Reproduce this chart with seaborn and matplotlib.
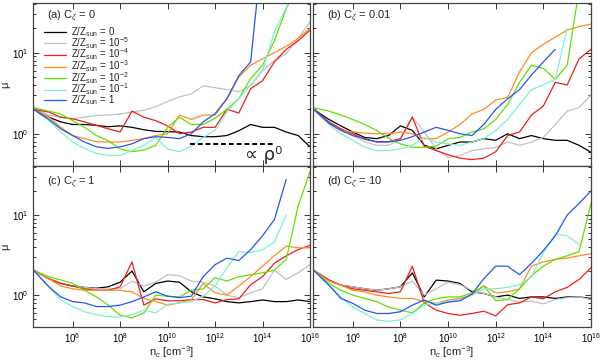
import numpy as np
import pandas as pd
import matplotlib
matplotlib.use("Agg")
import matplotlib.pyplot as plt
import matplotlib.ticker as mticker
import seaborn as sns

# density grid (log10 n_c), shared by every curve
log_nc = [4.35, 5.0, 5.5, 6.0, 6.5, 7.0, 7.5, 8.0, 8.5, 9.0, 9.5, 10.0,
          10.5, 11.0, 11.5, 12.0, 12.5, 13.0, 13.5, 14.0, 14.5, 15.0, 15.5, 16.0]
nan = np.nan

z_labels = [r"Z/Z$_{\rm sun}$ = 0", r"Z/Z$_{\rm sun}$ = 10$^{-5}$",
            r"Z/Z$_{\rm sun}$ = 10$^{-4}$", r"Z/Z$_{\rm sun}$ = 10$^{-3}$",
            r"Z/Z$_{\rm sun}$ = 10$^{-2}$", r"Z/Z$_{\rm sun}$ = 10$^{-1}$",
            r"Z/Z$_{\rm sun}$ = 1"]
z_colours = ["#000000", "#bcc3c3", "#f21c1c", "#ff8c20", "#62e000", "#7cf0d4", "#2456f2"]

# (a) C_zeta = 0
a_0 = [2.0, 1.6, 1.4, 1.3, 1.3, 1.27, 1.22, 1.25, 1.2, 1.12, 1.07, 1.06, 1.05, 0.95, 0.92, 0.92, 0.95, 1.09, 1.3, 1.2, 1.2, 1.05, 0.95, 0.69]
a_m5 = [2.1, 1.7, 1.6, 1.53, 1.6, 1.68, 1.7, 1.75, 1.85, 1.95, 2.15, 2.5, 2.85, 3.1, 3.9, 3.7, 3.5, 3.3, 3.9, 6.0, 8.0, 9.7, 15, 24]
a_m4 = [2.0, 1.85, 1.6, 1.53, 1.4, 1.27, 1.15, 1.05, 1.9, 1.6, 1.45, 1.25, 1.0, 1.05, 1.2, 1.2, 2.0, 1.8, 3.6, 4.5, 7.7, 11, 14, 19]
a_m3 = [2.0, 1.6, 1.2, 0.95, 0.87, 0.8, 0.79, 0.79, 0.83, 0.87, 0.95, 1.0, 1.7, 1.5, 1.7, 1.7, 2.7, 5.0, 7.0, 8.4, 10, 12, 15, 20]
a_m2 = [2.1, 1.9, 1.75, 1.45, 1.2, 0.95, 0.82, 0.65, 0.6, 0.63, 0.72, 1.2, 1.6, 1.3, 1.3, 1.55, 2.0, 2.7, 4.8, 7.0, 14, 35, 70, 80]
a_m1 = [2.0, 1.45, 1.05, 0.79, 0.66, 0.57, 0.54, 0.54, 0.62, 0.72, 0.9, 0.65, 0.6, 0.7, 0.9, 1.1, 1.85, 2.7, 4.0, 6.0, 18, 36, 70, 80]
a_1 = [2.0, 1.5, 1.15, 0.95, 0.79, 0.69, 0.66, 0.69, 0.75, 0.87, 0.92, 0.9, 0.87, 1.0, 1.4, 1.77, 2.7, 5.2, 7.7, 200, nan, nan, nan, nan]

# (b) C_zeta = 0.01
b_0 = [2.0, 1.5, 1.25, 1.05, 0.9, 0.87, 0.95, 1.25, 1.1, 0.72, 0.65, 0.72, 0.79, 0.79, 0.87, 0.83, 1.0, 0.87, 0.95, 0.87, 0.83, 0.83, 0.72, 0.59]
b_m5 = [2.0, 1.35, 1.15, 0.95, 0.79, 0.72, 0.72, 0.85, 1.6, 1.05, 0.65, 0.51, 0.54, 0.62, 0.65, 0.68, 0.79, 0.72, 0.79, 0.9, 1.3, 1.9, 2.1, 3.0]
b_m4 = [2.0, 1.4, 1.15, 1.0, 0.85, 0.8, 0.8, 0.87, 1.6, 0.7, 0.62, 0.55, 0.5, 0.48, 0.5, 0.6, 0.95, 1.05, 1.7, 2.2, 4.3, 4.0, 8.4, 11]
b_m3 = [2.0, 1.35, 1.1, 1.05, 1.02, 1.0, 1.0, 1.05, 1.0, 0.87, 0.87, 1.05, 1.3, 1.75, 2.0, 2.6, 2.8, 5.8, 10, 12.7, 15.5, 19, 21, 22.5]
b_m2 = [2.1, 1.9, 1.7, 1.5, 1.3, 1.1, 0.88, 0.75, 0.68, 0.68, 0.7, 0.87, 0.9, 1.05, 1.15, 1.5, 2.3, 4.3, 7.0, 6.4, 4.7, 7.0, 60, 80]
b_m1 = [2.0, 1.3, 1.0, 0.83, 0.68, 0.62, 0.62, 0.65, 0.72, 0.9, 0.79, 0.75, 0.72, 0.79, 0.87, 1.1, 1.5, 2.3, 3.5, 4.0, 4.7, 20, nan, nan]
b_1 = [2.0, 1.35, 1.1, 0.95, 0.87, 0.79, 0.79, 0.83, 0.92, 1.05, 1.2, 1.1, 1.0, 0.95, 1.3, 2.0, 2.7, 3.5, 5.3, 7.7, 11, nan, nan, nan]

# (c) C_zeta = 1
c_0 = [2.05, 1.6, 1.4, 1.3, 1.25, 1.22, 1.27, 1.45, 2.0, 1.1, 1.4, 1.5, 1.45, 1.1, 0.95, 0.9, 0.83, 0.8, 0.83, 0.87, 0.83, 0.83, 0.87, 0.83]
c_m5 = [2.05, 1.6, 1.4, 1.3, 1.25, 1.2, 1.2, 1.2, 1.5, 1.3, 1.45, 1.8, 1.75, 1.5, 1.45, 1.3, 1.0, 0.93, 1.07, 1.2, 2.05, 1.57, 1.9, 2.4]
c_m4 = [2.05, 1.6, 1.4, 1.3, 1.2, 1.15, 1.15, 1.27, 2.6, 0.75, 0.9, 0.85, 0.85, 0.88, 0.88, 0.8, 0.88, 0.9, 1.35, 1.7, 2.5, 3.1, 3.7, 4.2]
c_m3 = [2.05, 1.6, 1.3, 1.2, 1.15, 1.15, 1.15, 1.15, 1.1, 0.91, 0.83, 0.75, 0.8, 0.88, 1.4, 1.07, 1.0, 1.3, 1.7, 2.3, 3.1, 4.1, 3.9, 3.9]
c_m2 = [2.05, 1.69, 1.55, 1.4, 1.15, 0.95, 0.75, 0.56, 0.52, 0.6, 1.0, 0.97, 0.95, 1.15, 1.2, 1.65, 1.5, 1.7, 1.8, 1.9, 2.05, 2.8, 13, 35]
c_m1 = [2.05, 1.27, 0.87, 0.72, 0.62, 0.57, 0.54, 0.53, 0.57, 0.65, 0.6, 0.77, 0.8, 0.83, 0.97, 1.3, 2.2, 3.5, 3.4, 3.7, 4.6, 10, nan, nan]
c_1 = [2.05, 1.27, 0.95, 0.83, 0.8, 0.72, 0.72, 0.75, 0.83, 0.95, 1.1, 0.97, 0.93, 0.97, 1.7, 2.4, 2.9, 2.7, 3.7, 5.5, 8.8, 28, nan, nan]

# (d) C_zeta = 10
d_0 = [2.05, 1.54, 1.33, 1.27, 1.2, 1.15, 1.2, 1.27, 1.9, 0.95, 1.54, 1.5, 1.4, 1.1, 1.05, 0.95, 1.0, 0.91, 0.95, 0.95, 0.91, 0.95, 0.95, 0.91]
d_m5 = [2.05, 1.54, 1.33, 1.27, 1.2, 1.15, 1.2, 1.27, 1.5, 1.0, 1.2, 1.45, 1.35, 1.15, 1.05, 0.95, 0.88, 0.82, 0.84, 0.78, 0.88, 0.93, 0.95, 0.88]
d_m4 = [2.05, 1.54, 1.33, 1.2, 1.15, 1.1, 1.05, 1.1, 2.3, 0.8, 0.65, 0.59, 0.56, 0.59, 0.63, 0.55, 0.76, 0.8, 0.95, 0.9, 1.1, 1.25, 1.57, 2.2]
d_m3 = [2.05, 1.5, 1.33, 1.15, 1.1, 1.0, 0.95, 0.91, 0.91, 0.83, 0.79, 0.87, 0.91, 1.0, 1.3, 1.07, 1.1, 1.2, 2.3, 2.6, 2.8, 2.9, 3.1, 3.3]
d_m2 = [2.05, 1.4, 1.15, 1.0, 0.91, 0.83, 0.71, 0.65, 0.6, 0.8, 0.9, 0.95, 0.95, 1.07, 1.3, 0.85, 0.88, 1.2, 1.75, 2.3, 2.8, 3.1, 3.5, 14]
d_m1 = [2.05, 1.33, 0.95, 0.71, 0.59, 0.49, 0.47, 0.49, 0.59, 0.75, 0.79, 0.82, 0.87, 1.0, 1.2, 1.2, 1.25, 1.35, 1.7, 3.4, 5.8, 5.5, 4.3, nan]
d_1 = [2.05, 1.33, 0.91, 0.79, 0.65, 0.59, 0.59, 0.62, 0.75, 0.87, 0.75, 0.82, 0.85, 1.03, 1.6, 2.3, 2.3, 1.8, 2.5, 3.6, 5.5, 10, 14, 20]

panel_titles = [r"(a) C$_\zeta$ = 0", r"(b) C$_\zeta$ = 0.01",
                r"(c) C$_\zeta$ = 1", r"(d) C$_\zeta$ = 10"]
panel_series = [[a_0, a_m5, a_m4, a_m3, a_m2, a_m1, a_1],
                [b_0, b_m5, b_m4, b_m3, b_m2, b_m1, b_1],
                [c_0, c_m5, c_m4, c_m3, c_m2, c_m1, c_1],
                [d_0, d_m5, d_m4, d_m3, d_m2, d_m1, d_1]]

# proportional-to-rho^0 guide in panel (a)
guide_log_nc = [10.94, 14.44]
guide_mu = [0.74, 0.74]

sns.set_style("ticks")
plt.rcParams["font.family"] = ["Liberation Sans", "DejaVu Sans"]
plt.rcParams["mathtext.fontset"] = "custom"
plt.rcParams["mathtext.rm"] = "Liberation Sans"
plt.rcParams["mathtext.it"] = "Liberation Sans:italic"
plt.rcParams["mathtext.bf"] = "Liberation Sans:bold"
plt.rcParams["mathtext.fallback"] = "stixsans"

W, H = 602, 361
fig = plt.figure(figsize=(W / 100, H / 100), dpi=100)
boxes = [(33, 3, 277, 163), (313, 3, 278, 163), (33, 166, 277, 161), (313, 166, 278, 161)]
palette = dict(zip(z_labels, z_colours))

for i, (title, series) in enumerate(zip(panel_titles, panel_series)):
    x0, y0, w, h = boxes[i]
    ax = fig.add_axes([x0 / W, 1 - (y0 + h) / H, w / W, h / H])
    ax.set_xscale("log")
    ax.set_yscale("log")

    df = pd.concat([pd.DataFrame({"nc": 10.0 ** np.array(log_nc), "mu": vals, "Z": lab})
                    for vals, lab in zip(series, z_labels)], ignore_index=True)
    sns.lineplot(data=df, x="nc", y="mu", hue="Z", hue_order=z_labels, palette=palette,
                 estimator=None, sort=False, linewidth=0.9, legend=(i == 0), ax=ax)

    ax.set_xlim(10 ** 4.33, 1e16)
    ax.set_ylim(0.4, 41)
    ax.xaxis.set_major_locator(mticker.FixedLocator(10.0 ** np.arange(6, 17, 2)))
    ax.xaxis.set_major_formatter(mticker.LogFormatterSciNotation())
    ax.xaxis.set_minor_locator(mticker.NullLocator())
    ax.yaxis.set_major_locator(mticker.LogLocator(base=10))
    ax.yaxis.set_minor_locator(mticker.LogLocator(base=10, subs=np.arange(2, 10)))
    ax.yaxis.set_minor_formatter(mticker.NullFormatter())
    ax.tick_params(which="both", direction="in", top=True, right=True,
                   labelsize=7, colors="#333333", labelcolor="black", width=0.7)
    ax.tick_params(which="major", length=4, pad=3)
    ax.tick_params(which="minor", length=2)
    for sp in ax.spines.values():
        sp.set_color("#444444")
        sp.set_linewidth(0.9)

    if i < 2:
        ax.tick_params(labelbottom=False)
        ax.set_xlabel("")
    else:
        ax.set_xlabel(r"n$_c$ [cm$^{-3}$]", fontsize=8)
        ax.xaxis.set_label_coords(0.5, -0.105)
    if i % 2 == 1:
        ax.tick_params(labelleft=False)
        ax.set_ylabel("")
    else:
        ax.set_ylabel("μ", fontsize=8)
        ax.yaxis.set_label_coords(-0.083, 0.5)

    ax.text(0.05, 0.92 if i < 2 else 0.9, title, transform=ax.transAxes,
            fontsize=8, va="center", ha="left")

    if i == 0:
        sns.move_legend(ax, "upper left", bbox_to_anchor=(0.04, 0.865), frameon=False,
                        title=None, fontsize=7, handlelength=2.3, handletextpad=0.5,
                        labelspacing=-0.4, borderpad=0, borderaxespad=0)
        ax.plot(10.0 ** np.array(guide_log_nc), guide_mu, color="black",
                linestyle=(0, (2.5, 1.5)), linewidth=1.4)
        ax.text(10 ** 13.25, 0.54, "∝ ρ⁰", fontsize=13, va="center", ha="left",
                family=["DejaVu Sans"])

fig.savefig("out.png", dpi=100)
